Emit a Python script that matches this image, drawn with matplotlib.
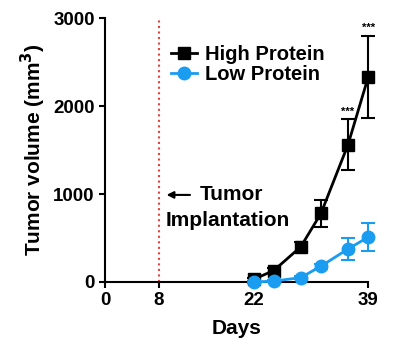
import matplotlib
matplotlib.use("Agg")
import matplotlib.pyplot as plt
from matplotlib.lines import Line2D

plt.rcParams['font.family'] = ['Liberation Sans', 'DejaVu Sans']
plt.rcParams['font.weight'] = 'bold'

days = [22, 25, 29, 32, 36, 39]
high = [30, 130, 400, 780, 1560, 2330]
high_err = [20, 30, 60, 150, 290, 470]
low = [0, 10, 50, 180, 375, 510]
low_err = [10, 10, 20, 30, 125, 160]
sig_days = [36, 39]
implant_day = 8
xticks = [0, 8, 22, 39]
yticks = [0, 1000, 2000, 3000]

blue = '#1a9cf0'

fig = plt.figure(figsize=(4.17, 3.62), dpi=100)
ax = fig.add_axes([0.252, 0.221, 0.631, 0.729])

ax.errorbar(days, high, yerr=high_err, color='black', marker='s', ms=9,
            lw=2, capsize=5, capthick=1.5, elinewidth=1.5,
            clip_on=False, zorder=3)
ax.errorbar(days, low, yerr=low_err, color=blue, marker='o', ms=9,
            lw=2, capsize=5, capthick=1.5, elinewidth=1.5,
            clip_on=False, zorder=3)

# significance stars
for d in sig_days:
    i = days.index(d)
    ax.text(d, high[i] + high_err[i] + 30, '***', ha='center', va='bottom',
            fontsize=8)

ax.axvline(implant_day, ymin=0, ymax=1, color='#e8403a', ls=':', lw=1.5)
ax.annotate('', xy=(implant_day + 0.7, 990), xytext=(implant_day + 5, 990),
            arrowprops=dict(arrowstyle='-|>', color='black', lw=1.5))
ax.text(implant_day + 6, 990, 'Tumor', fontsize=15, va='center', ha='left')
ax.text(implant_day + 0.9, 700, 'Implantation', fontsize=15, va='center',
        ha='left')

ax.set_xlim(0, 39)
ax.set_ylim(0, 3000)
ax.set_xticks(xticks)
ax.set_yticks(yticks)
ax.tick_params(labelsize=13.5, width=1.5, length=4)
for s in ['top', 'right']:
    ax.spines[s].set_visible(False)
for s in ['left', 'bottom']:
    ax.spines[s].set_linewidth(1.5)

ax.set_xlabel('Days', fontsize=15, fontweight='bold', labelpad=7)
ax.set_ylabel('Tumor volume (mm$^3$)', fontsize=15, fontweight='bold')

handles = [Line2D([], [], color='black', marker='s', ms=9, lw=2),
           Line2D([], [], color=blue, marker='o', ms=9, lw=2)]
ax.legend(handles, ['High Protein', 'Low Protein'], loc='upper left',
          bbox_to_anchor=(0.22, 0.93), frameon=False, fontsize=14.5,
          handlelength=1.3, handletextpad=0.4, labelspacing=0.05,
          borderaxespad=0)

fig.savefig('out.png', dpi=100)
